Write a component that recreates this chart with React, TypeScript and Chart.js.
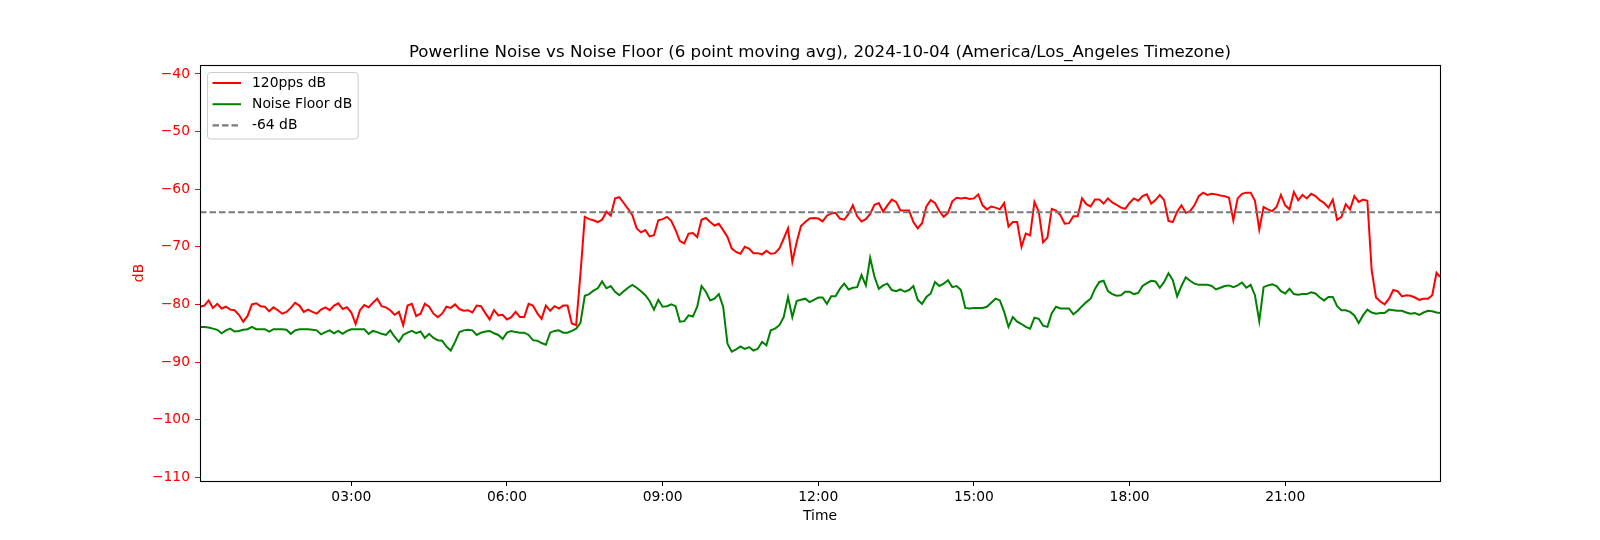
import React, { useEffect, useRef } from 'react';
import { Chart, registerables } from 'chart.js';

Chart.register(...registerables);

const FONT = "'DejaVu Sans', 'Liberation Sans', sans-serif";
const TITLE = 'Powerline Noise vs Noise Floor (6 point moving avg), 2024-10-04 (America/Los_Angeles Timezone)';

// time axis, minutes after midnight
const START_MIN = 5;
const STEP_MIN = 5;
const END_MIN = 1439;
const X_MIN = 5;
const X_MAX = 1439;
const xTickMinutes = [180, 360, 540, 720, 900, 1080, 1260];

// y axis
const Y_MIN = -110.64;
const Y_MAX = -38.45;
const yTickValues = [-110, -100, -90, -80, -70, -60, -50, -40];

const thresholdDb = -64;

// 120pps dB, one row per hour (5 min samples)
const pps120Db = [
  -80.4, -80.2, -79.3, -80.6, -79.9, -80.7, -80.4, -80.9, -81.0, -81.8, -83.0, -82.0,
  -80.0, -79.8, -80.3, -80.4, -81.2, -80.5, -81.0, -81.6, -81.3, -80.6, -79.7, -80.2,
  -81.3, -80.9, -81.3, -81.6, -80.9, -80.5, -81.0, -80.2, -79.8, -80.8, -80.5, -81.4,
  -83.4, -81.0, -80.1, -80.5, -79.7, -79.0, -80.3, -80.5, -81.0, -81.8, -81.3, -83.6,
  -80.2, -79.9, -82.0, -81.6, -79.9, -80.4, -81.6, -82.2, -81.6, -80.4, -80.6, -80.0,
  -80.8, -81.1, -81.0, -81.4, -80.2, -80.3, -81.5, -82.6, -81.0, -81.9, -81.8, -82.6,
  -82.2, -81.3, -82.2, -82.2, -79.9, -80.2, -81.5, -82.5, -80.2, -81.1, -80.3, -80.7,
  -80.2, -80.2, -83.3, -83.6, -74.6, -64.8, -65.2, -65.4, -65.7, -65.3, -63.9, -64.6,
  -61.6, -61.4, -62.4, -63.4, -64.5, -66.8, -67.5, -67.1, -68.2, -68.0, -65.4, -65.2,
  -64.8, -65.5, -67.1, -69.0, -69.4, -67.7, -67.6, -68.3, -65.3, -65.0, -65.7, -66.3,
  -66.0, -67.1, -68.3, -70.3, -70.9, -71.2, -70.0, -70.3, -71.1, -71.1, -71.3, -70.7,
  -71.2, -71.1, -70.3, -68.6, -66.8, -72.6, -69.2, -66.4, -65.7, -65.1, -65.0, -65.1,
  -65.6, -64.6, -64.2, -64.1, -65.1, -65.3, -64.3, -62.8, -64.7, -65.6, -65.2, -64.3,
  -62.7, -62.4, -63.9, -62.8, -61.8, -62.2, -63.7, -63.7, -63.7, -65.7, -66.8, -65.9,
  -63.0, -61.9, -62.4, -63.8, -64.8, -64.1, -62.1, -61.5, -61.6, -61.5, -61.7, -61.6,
  -60.9, -62.8, -63.5, -63.0, -63.2, -63.5, -62.4, -66.5, -65.7, -65.7, -70.0, -67.7,
  -68.0, -62.2, -63.9, -69.2, -68.4, -63.4, -63.7, -64.5, -66.0, -65.9, -64.7, -64.7,
  -61.6, -62.6, -63.0, -61.8, -61.8, -62.5, -61.6, -62.3, -62.7, -63.2, -63.4, -62.4,
  -61.6, -62.0, -61.2, -60.9, -62.5, -61.9, -61.0, -61.9, -65.5, -65.7, -63.9, -62.8,
  -64.1, -63.8, -62.8, -61.2, -60.6, -61.0, -60.8, -60.9, -61.1, -61.2, -61.5, -65.4,
  -61.6, -60.8, -60.6, -60.6, -62.0, -67.0, -63.1, -63.5, -63.8, -63.1, -61.0, -62.8,
  -63.5, -60.5, -61.9, -61.0, -61.6, -60.8, -61.2, -61.9, -62.4, -63.2, -61.8, -65.3,
  -64.8, -62.6, -63.5, -61.2, -62.2, -61.8, -62.0, -74.1, -78.8, -79.5, -80.0, -79.0,
  -77.5, -77.7, -78.6, -78.4, -78.5, -78.8, -79.2, -79.0, -79.0, -78.4, -74.5, -75.2,
];

// Noise Floor dB, one row per hour (5 min samples)
const noiseFloorDb = [
  -83.9, -83.9, -84.0, -84.2, -84.4, -85.0, -84.5, -84.2, -84.7, -84.6, -84.4, -84.3,
  -83.9, -84.3, -84.3, -84.3, -84.7, -84.3, -84.3, -84.3, -84.4, -85.1, -84.5, -84.3,
  -84.3, -84.3, -84.4, -84.5, -85.2, -84.8, -84.5, -85.0, -84.6, -85.1, -84.6, -84.3,
  -84.3, -84.3, -84.3, -85.1, -84.6, -84.8, -85.1, -85.3, -84.5, -85.6, -86.5, -85.3,
  -84.9, -84.6, -85.0, -84.7, -85.8, -85.1, -85.8, -86.2, -86.3, -87.3, -88.0, -86.5,
  -84.8, -84.5, -84.4, -84.5, -85.3, -84.9, -84.7, -84.6, -85.0, -85.3, -86.0, -84.9,
  -84.6, -84.8, -84.9, -84.9, -85.3, -86.2, -86.3, -86.7, -87.0, -84.9, -84.6, -84.5,
  -84.9, -84.9, -84.6, -84.2, -83.2, -78.5, -78.2, -77.6, -77.2, -76.0, -77.2, -76.8,
  -77.8, -78.4, -77.7, -77.1, -76.6, -77.1, -77.7, -78.4, -79.4, -80.9, -79.2, -80.4,
  -80.3, -80.0, -80.3, -83.0, -82.9, -81.9, -82.1, -80.4, -76.8, -77.8, -79.3, -79.0,
  -78.2, -80.4, -86.8, -88.2, -87.8, -87.3, -87.7, -87.4, -88.0, -87.7, -86.5, -87.1,
  -84.5, -84.2, -83.6, -82.2, -78.7, -82.2, -79.4, -79.2, -79.0, -79.6, -79.2, -78.8,
  -78.8, -79.9, -78.6, -78.6, -77.3, -76.4, -77.4, -77.1, -77.0, -74.9, -76.7, -71.9,
  -75.2, -77.3, -76.7, -76.4, -77.5, -77.7, -77.4, -77.8, -77.5, -76.8, -79.2, -79.9,
  -78.7, -78.1, -76.1, -76.8, -76.4, -75.8, -77.0, -76.8, -77.5, -80.6, -80.7, -80.6,
  -80.6, -80.6, -80.4, -79.7, -79.0, -79.3, -81.3, -83.9, -82.2, -83.0, -83.4, -83.9,
  -84.2, -82.3, -82.5, -83.7, -83.9, -81.5, -80.4, -80.7, -80.7, -80.7, -81.7, -81.1,
  -80.3, -79.6, -79.0, -77.3, -76.1, -75.9, -77.7, -78.2, -78.5, -78.4, -77.8, -77.8,
  -78.2, -78.0, -76.8, -76.3, -75.9, -76.0, -77.1, -76.1, -74.6, -75.8, -78.6, -76.8,
  -75.3, -75.9, -76.4, -76.6, -76.6, -76.6, -76.8, -77.4, -77.1, -76.8, -76.7, -77.0,
  -76.7, -76.2, -77.1, -76.6, -78.4, -82.9, -77.0, -76.7, -76.5, -76.8, -77.7, -78.1,
  -77.3, -78.2, -78.3, -78.2, -78.2, -77.9, -78.1, -78.8, -79.3, -78.7, -78.7, -80.3,
  -81.0, -81.0, -81.3, -81.9, -83.2, -81.9, -80.9, -81.4, -81.6, -81.5, -81.5, -80.9,
  -81.0, -81.1, -81.1, -81.4, -81.6, -81.5, -81.8, -81.4, -81.1, -81.2, -81.4, -81.5,
];

const sampleMinutes = pps120Db.map((_, i) =>
  i === pps120Db.length - 1 ? END_MIN : START_MIN + i * STEP_MIN
);

const pad2 = (n: number) => String(n).padStart(2, '0');

const framePlugin = {
  id: 'frameAndLegend',
  afterDatasetsDraw(chart: any) {
    const { ctx, chartArea } = chart;
    const { left, top, right, bottom } = chartArea;
    ctx.save();
    // spines
    ctx.strokeStyle = '#000000';
    ctx.lineWidth = 1.1;
    ctx.setLineDash([]);
    ctx.strokeRect(left + 0.5, top + 0.5, right - left, bottom - top);

    // legend inside axes (upper left)
    const fs = 13.89;
    ctx.font = `${fs}px ${FONT}`;
    const items = chart.data.datasets;
    const textW = Math.max(...items.map((d: any) => ctx.measureText(d.label).width));
    const bx = left + 7.5;
    const by = top + 7.5;
    const bw = 44.5 + textW + 6;
    const bh = 66.5;
    const r = 3;
    ctx.beginPath();
    ctx.moveTo(bx + r, by);
    ctx.lineTo(bx + bw - r, by);
    ctx.arcTo(bx + bw, by, bx + bw, by + r, r);
    ctx.lineTo(bx + bw, by + bh - r);
    ctx.arcTo(bx + bw, by + bh, bx + bw - r, by + bh, r);
    ctx.lineTo(bx + r, by + bh);
    ctx.arcTo(bx, by + bh, bx, by + bh - r, r);
    ctx.lineTo(bx, by + r);
    ctx.arcTo(bx, by, bx + r, by, r);
    ctx.closePath();
    ctx.fillStyle = 'rgba(255,255,255,0.8)';
    ctx.fill();
    ctx.strokeStyle = '#cccccc';
    ctx.lineWidth = 1;
    ctx.stroke();

    items.forEach((d: any, i: number) => {
      const cy = by + 10.5 + i * 21.2;
      ctx.beginPath();
      ctx.setLineDash(d.borderDash || []);
      ctx.strokeStyle = d.borderColor;
      ctx.lineWidth = d.borderWidth;
      ctx.moveTo(bx + 5, cy);
      ctx.lineTo(bx + 33.5, cy);
      ctx.stroke();
      ctx.setLineDash([]);
      ctx.fillStyle = '#000000';
      ctx.textAlign = 'left';
      ctx.textBaseline = 'middle';
      ctx.fillText(d.label, bx + 44.5, cy);
    });
    ctx.restore();
  },
};

export default function App() {
  const canvasRef = useRef<HTMLCanvasElement | null>(null);

  useEffect(() => {
    const canvas = canvasRef.current;
    if (!canvas) return;
    Chart.defaults.font.family = FONT;

    const tickFont = { family: FONT, size: 13.89, weight: 'normal' as const };

    const chart = new Chart(canvas, {
      type: 'line',
      data: {
        datasets: [
          {
            label: '120pps dB',
            data: sampleMinutes.map((m, i) => ({ x: m, y: pps120Db[i] })),
            borderColor: '#ff0000',
            backgroundColor: '#ff0000',
            borderWidth: 2,
            pointRadius: 0,
            tension: 0,
            fill: false,
            order: 2,
          },
          {
            label: 'Noise Floor dB',
            data: sampleMinutes.map((m, i) => ({ x: m, y: noiseFloorDb[i] })),
            borderColor: '#008000',
            backgroundColor: '#008000',
            borderWidth: 2,
            pointRadius: 0,
            tension: 0,
            fill: false,
            order: 1,
          },
          {
            label: '-64 dB',
            data: [
              { x: X_MIN, y: thresholdDb },
              { x: X_MAX, y: thresholdDb },
            ],
            borderColor: '#7a7a7a',
            backgroundColor: '#7a7a7a',
            borderWidth: 2.1,
            borderDash: [6.5, 3],
            pointRadius: 0,
            fill: false,
            order: 0,
          },
        ],
      },
      options: {
        animation: false,
        responsive: false,
        devicePixelRatio: 1,
        events: [],
        layout: { padding: { left: 0, right: 160, top: 0, bottom: 0 } },
        plugins: {
          legend: { display: false },
          tooltip: { enabled: false },
          title: {
            display: true,
            text: TITLE,
            fullSize: false,
            color: '#000000',
            font: { family: FONT, size: 16.67, weight: 'normal' },
            padding: { top: 43, bottom: 2 },
          },
        },
        scales: {
          x: {
            type: 'linear',
            min: X_MIN,
            max: X_MAX,
            afterBuildTicks: (s: any) => {
              s.ticks = xTickMinutes.map((v) => ({ value: v }));
            },
            afterFit: (s: any) => {
              s.height = 59;
            },
            ticks: {
              autoSkip: false,
              maxRotation: 0,
              color: '#000000',
              font: tickFont,
              padding: 3,
              callback: (v: any) => `${pad2(Math.floor(v / 60))}:${pad2(v % 60)}`,
            },
            grid: {
              display: true,
              drawOnChartArea: false,
              drawTicks: true,
              tickLength: 5,
              color: '#000000',
              tickColor: '#000000',
              lineWidth: 1,
            },
            border: { display: false },
            title: {
              display: true,
              text: 'Time',
              color: '#000000',
              font: tickFont,
              padding: { top: 0, bottom: 15.2 },
            },
          },
          y: {
            type: 'linear',
            min: Y_MIN,
            max: Y_MAX,
            afterBuildTicks: (s: any) => {
              s.ticks = yTickValues.map((v) => ({ value: v }));
            },
            afterFit: (s: any) => {
              s.width = 200;
            },
            ticks: {
              autoSkip: false,
              color: '#ff0000',
              font: tickFont,
              padding: 5,
              callback: (v: any) => (v < 0 ? '\u2212' : '') + Math.abs(v),
            },
            grid: {
              display: true,
              drawOnChartArea: false,
              drawTicks: true,
              tickLength: 5,
              color: '#ff0000',
              tickColor: '#ff0000',
              lineWidth: 1,
            },
            border: { display: false },
            title: {
              display: true,
              text: 'dB',
              color: '#ff0000',
              font: tickFont,
              padding: { top: 130.7, bottom: 0 },
            },
          },
        },
      },
      plugins: [framePlugin],
    } as any);

    return () => {
      chart.destroy();
    };
  }, []);

  return (
    <div style={{ position: 'absolute', left: 0, top: 0, width: 1600, height: 540, background: '#ffffff' }}>
      <canvas ref={canvasRef} width={1600} height={540} style={{ display: 'block', width: 1600, height: 540 }} />
    </div>
  );
}
